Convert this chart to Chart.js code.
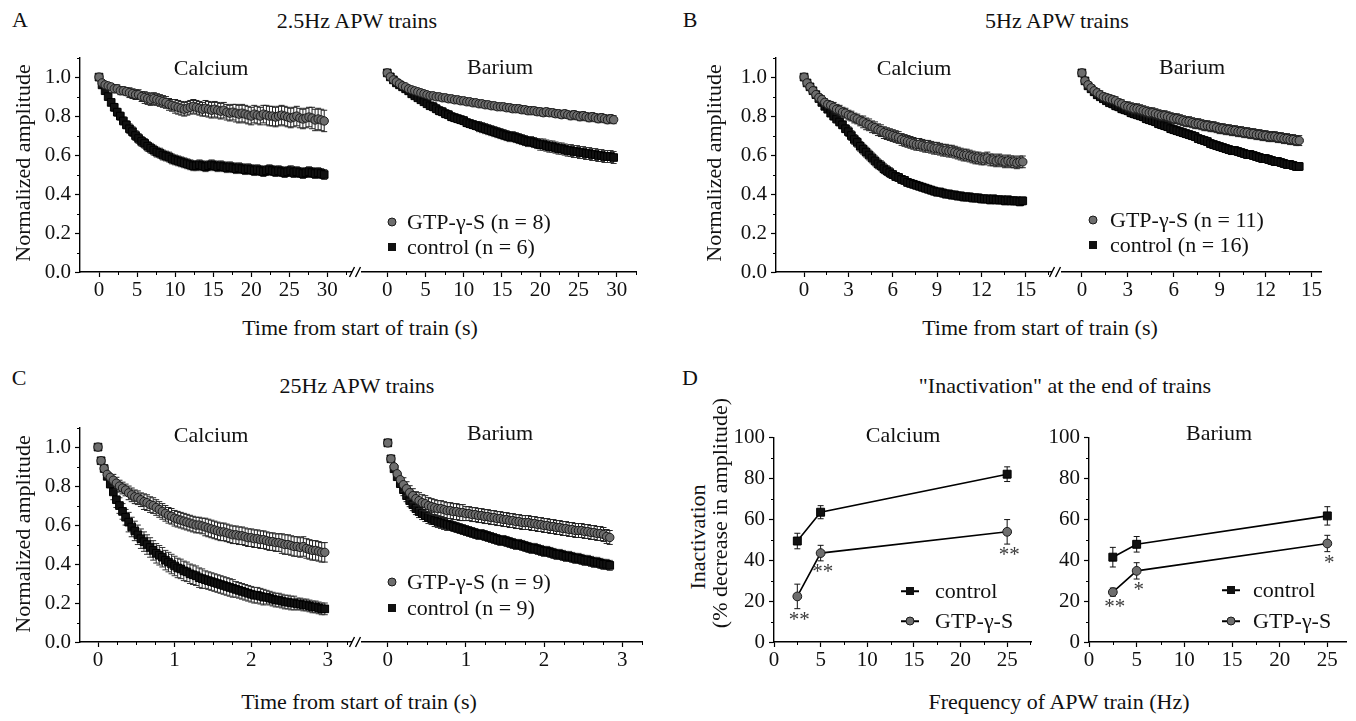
<!DOCTYPE html>
<html>
<head>
<meta charset="utf-8">
<script src="https://cdn.jsdelivr.net/npm/chart.js@4.4.1/dist/chart.umd.min.js"></script>
<style>
  body { margin: 0; background: #fff; width: 1356px; height: 721px; position: relative; overflow: hidden;
         font-family: "Liberation Serif", "Times New Roman", serif; color: #111; }
  canvas { position: absolute; }
  .t { position: absolute; white-space: nowrap; font-size: 22px; line-height: 1; transform: translate(-50%, -50%); }
  .rot { transform: translate(-50%, -50%) rotate(-90deg); }
  .lt { position: absolute; white-space: nowrap; font-size: 22px; line-height: 1; transform: translateY(-50%); }
  .mk { position: absolute; box-sizing: border-box; transform: translate(-50%, -50%); }
  .mk.c { width: 9px; height: 9px; border-radius: 50%; background: #6e6e6e; border: 1px solid #1a1a1a; }
  .mk.s { width: 8px; height: 8px; background: #111; }
  .ln { position: absolute; height: 1.5px; width: 18px; background: #000; transform: translate(-50%, -50%); }
</style>
</head>
<body>
<script>
// sampling interval of each APW train (s)
const dtA = 0.4;   // 2.5 Hz
const dtB = 0.2;   // 5 Hz
const dtC = 0.04;  // 25 Hz

// A: 2.5 Hz trains, normalized amplitude
const aCaGtp = [1.00,0.97,0.96,0.955,0.95,0.94,0.94,0.93,0.93,0.925,
  0.92,0.915,0.91,0.91,0.90,0.895,0.89,0.885,0.89,0.885,
  0.88,0.875,0.87,0.86,0.855,0.85,0.845,0.84,0.835,0.84,
  0.845,0.85,0.845,0.84,0.835,0.84,0.835,0.83,0.835,0.83,
  0.825,0.83,0.82,0.815,0.82,0.815,0.81,0.815,0.81,0.805,
  0.80,0.81,0.805,0.80,0.81,0.805,0.80,0.80,0.795,0.80,
  0.805,0.80,0.795,0.79,0.795,0.80,0.79,0.785,0.79,0.795,
  0.79,0.78,0.785,0.78,0.775];
const aCaCtl = [1.00,0.96,0.93,0.90,0.87,0.845,0.82,0.80,0.775,0.755,
  0.735,0.72,0.70,0.685,0.67,0.66,0.645,0.635,0.625,0.615,
  0.61,0.60,0.595,0.59,0.58,0.575,0.57,0.565,0.56,0.555,
  0.55,0.545,0.545,0.55,0.545,0.54,0.545,0.55,0.545,0.54,
  0.545,0.54,0.535,0.54,0.535,0.53,0.535,0.53,0.525,0.53,
  0.525,0.52,0.525,0.52,0.515,0.52,0.525,0.52,0.515,0.52,
  0.515,0.51,0.515,0.52,0.51,0.515,0.51,0.505,0.51,0.515,
  0.51,0.505,0.51,0.505,0.50];
const aBaGtp = [1.00,0.98,0.965,0.955,0.945,0.935,0.93,0.92,0.915,0.91,
  0.905,0.90,0.895,0.89,0.885,0.885,0.88,0.88,0.875,0.875,
  0.87,0.87,0.865,0.865,0.86,0.86,0.855,0.855,0.85,0.85,
  0.845,0.845,0.84,0.84,0.835,0.835,0.83,0.83,0.83,0.825,
  0.825,0.82,0.82,0.82,0.815,0.815,0.81,0.81,0.81,0.805,
  0.805,0.80,0.805,0.80,0.80,0.795,0.795,0.79,0.795,0.79,
  0.785,0.79,0.785,0.78,0.785,0.78,0.775,0.78,0.775,0.77,
  0.775,0.77,0.765,0.77,0.765];
const aBaCtl = [1.00,0.98,0.965,0.95,0.94,0.93,0.92,0.91,0.895,0.885,
  0.875,0.865,0.855,0.845,0.835,0.83,0.82,0.81,0.805,0.795,
  0.79,0.78,0.775,0.77,0.765,0.76,0.75,0.745,0.74,0.735,
  0.73,0.725,0.72,0.715,0.71,0.705,0.70,0.695,0.69,0.685,
  0.68,0.68,0.675,0.67,0.665,0.66,0.655,0.655,0.65,0.645,
  0.64,0.64,0.635,0.63,0.63,0.625,0.62,0.62,0.615,0.61,
  0.61,0.605,0.605,0.60,0.60,0.595,0.595,0.59,0.59,0.585,
  0.585,0.58,0.58,0.58,0.575];

// B: 5 Hz trains
const bCaGtp = [1.00,0.97,0.95,0.93,0.91,0.895,0.885,0.87,0.86,0.855,
  0.845,0.835,0.83,0.82,0.815,0.805,0.80,0.79,0.785,0.775,
  0.77,0.76,0.755,0.745,0.74,0.73,0.725,0.715,0.71,0.705,
  0.70,0.695,0.69,0.68,0.675,0.67,0.665,0.66,0.655,0.655,
  0.65,0.645,0.645,0.64,0.635,0.635,0.63,0.625,0.625,0.62,
  0.62,0.615,0.61,0.605,0.60,0.60,0.595,0.59,0.585,0.585,
  0.58,0.58,0.585,0.575,0.575,0.57,0.575,0.57,0.565,0.57,
  0.565,0.565,0.56,0.565,0.565];
const bCaCtl = [1.00,0.97,0.95,0.93,0.91,0.89,0.87,0.85,0.835,0.815,
  0.80,0.785,0.77,0.755,0.735,0.72,0.70,0.68,0.665,0.645,
  0.63,0.615,0.60,0.585,0.57,0.555,0.545,0.53,0.52,0.51,
  0.50,0.49,0.485,0.475,0.47,0.46,0.455,0.45,0.445,0.44,
  0.435,0.43,0.425,0.42,0.415,0.41,0.41,0.405,0.40,0.40,
  0.395,0.395,0.39,0.39,0.385,0.385,0.385,0.38,0.38,0.38,
  0.375,0.375,0.375,0.37,0.375,0.37,0.37,0.37,0.365,0.37,
  0.365,0.365,0.365,0.36,0.365];
const bBaGtp = [1.00,0.96,0.94,0.925,0.91,0.90,0.89,0.88,0.875,0.87,
  0.865,0.86,0.85,0.845,0.835,0.83,0.825,0.82,0.82,0.815,
  0.81,0.805,0.80,0.80,0.795,0.79,0.785,0.785,0.78,0.775,
  0.77,0.77,0.765,0.76,0.755,0.755,0.75,0.745,0.745,0.74,
  0.735,0.735,0.73,0.73,0.725,0.72,0.72,0.715,0.715,0.71,
  0.71,0.705,0.705,0.70,0.70,0.695,0.695,0.69,0.69,0.685,
  0.685,0.68,0.68,0.68,0.675,0.675,0.67,0.67,0.665,0.665,
  0.66,0.66];
const bBaCtl = [1.00,0.96,0.935,0.92,0.905,0.89,0.88,0.87,0.86,0.85,
  0.845,0.835,0.83,0.82,0.815,0.81,0.80,0.795,0.79,0.785,
  0.78,0.77,0.765,0.76,0.755,0.745,0.74,0.735,0.73,0.72,
  0.715,0.71,0.705,0.70,0.695,0.69,0.685,0.68,0.67,0.665,
  0.66,0.655,0.645,0.64,0.635,0.63,0.625,0.62,0.615,0.61,
  0.61,0.605,0.60,0.595,0.59,0.59,0.585,0.58,0.575,0.57,
  0.57,0.565,0.56,0.555,0.555,0.55,0.545,0.54,0.54,0.535,
  0.53,0.53];

// C: 25 Hz trains
const cCaGtp = [1.00,0.93,0.89,0.86,0.845,0.83,0.815,0.80,0.79,0.78,
  0.765,0.755,0.745,0.74,0.73,0.72,0.715,0.705,0.70,0.69,
  0.68,0.67,0.66,0.65,0.645,0.635,0.63,0.625,0.62,0.615,
  0.61,0.605,0.60,0.60,0.595,0.59,0.585,0.58,0.575,0.57,
  0.565,0.565,0.56,0.555,0.55,0.55,0.545,0.545,0.54,0.535,
  0.535,0.53,0.53,0.525,0.525,0.52,0.515,0.515,0.51,0.51,
  0.505,0.50,0.50,0.495,0.49,0.49,0.485,0.49,0.48,0.475,
  0.47,0.47,0.465,0.46,0.46];
const cCaCtl = [1.00,0.93,0.89,0.85,0.81,0.77,0.73,0.70,0.67,0.64,
  0.615,0.59,0.57,0.55,0.53,0.515,0.50,0.485,0.47,0.455,
  0.445,0.435,0.42,0.41,0.40,0.39,0.38,0.375,0.365,0.36,
  0.35,0.345,0.34,0.33,0.325,0.32,0.315,0.31,0.305,0.30,
  0.295,0.29,0.285,0.28,0.275,0.27,0.265,0.26,0.255,0.25,
  0.245,0.24,0.24,0.235,0.23,0.23,0.225,0.22,0.215,0.215,
  0.21,0.205,0.205,0.20,0.20,0.195,0.195,0.19,0.19,0.185,
  0.18,0.18,0.175,0.17,0.17];
const cBaGtp = [1.00,0.92,0.88,0.845,0.815,0.79,0.77,0.75,0.735,0.72,
  0.71,0.70,0.695,0.685,0.68,0.675,0.67,0.67,0.665,0.66,
  0.66,0.655,0.655,0.65,0.65,0.645,0.645,0.64,0.64,0.635,
  0.635,0.63,0.63,0.625,0.625,0.62,0.62,0.615,0.615,0.61,
  0.61,0.605,0.605,0.60,0.60,0.60,0.595,0.595,0.59,0.59,
  0.585,0.585,0.58,0.58,0.575,0.575,0.57,0.57,0.565,0.565,
  0.56,0.56,0.56,0.555,0.555,0.55,0.55,0.545,0.545,0.54,
  0.53,0.525];
const cBaCtl = [1.00,0.92,0.87,0.83,0.795,0.765,0.735,0.71,0.69,0.67,
  0.655,0.645,0.635,0.625,0.62,0.61,0.605,0.60,0.595,0.59,
  0.585,0.58,0.575,0.57,0.565,0.56,0.555,0.55,0.545,0.54,
  0.54,0.535,0.53,0.525,0.52,0.515,0.51,0.51,0.505,0.50,
  0.495,0.49,0.49,0.485,0.48,0.475,0.47,0.47,0.465,0.46,
  0.455,0.455,0.45,0.445,0.44,0.44,0.435,0.43,0.43,0.425,
  0.42,0.42,0.415,0.41,0.41,0.405,0.40,0.40,0.395,0.39,
  0.39,0.385];

// SEM, one value per block of 5 pulses
const aCaGtpErr = [0.01,0.02,0.025,0.03,0.03,0.035,0.035,0.04,0.04,0.045,0.045,0.05,0.05,0.05,0.055];
const aCaCtlErr = [0.01,0.02,0.025,0.025,0.025,0.025,0.025,0.025,0.025,0.025,0.025,0.025,0.025,0.025,0.025];
const aBaGtpErr = [0.01,0.01,0.012,0.015,0.015,0.015,0.015,0.015,0.018,0.018,0.018,0.018,0.02,0.02,0.02];
const aBaCtlErr = [0.01,0.01,0.015,0.02,0.02,0.02,0.025,0.025,0.025,0.025,0.028,0.028,0.03,0.03,0.03];
const bCaGtpErr = [0.01,0.02,0.025,0.025,0.03,0.03,0.03,0.03,0.03,0.03,0.03,0.03,0.03,0.03,0.03];
const bCaCtlErr = [0.01,0.015,0.02,0.025,0.025,0.025,0.02,0.02,0.02,0.02,0.02,0.02,0.02,0.02,0.02];
const bBaGtpErr = [0.01,0.02,0.02,0.025,0.025,0.025,0.025,0.025,0.025,0.025,0.025,0.025,0.025,0.025,0.025];
const bBaCtlErr = [0.01,0.015,0.02,0.02,0.02,0.02,0.02,0.02,0.02,0.02,0.02,0.02,0.02,0.02,0.02];
const cCaGtpErr = [0.01,0.03,0.035,0.04,0.04,0.04,0.04,0.045,0.045,0.045,0.045,0.045,0.05,0.05,0.05];
const cCaCtlErr = [0.01,0.04,0.05,0.05,0.05,0.05,0.05,0.045,0.045,0.04,0.04,0.035,0.035,0.03,0.03];
const cBaGtpErr = [0.01,0.035,0.04,0.04,0.04,0.035,0.035,0.035,0.035,0.035,0.035,0.035,0.035,0.035,0.035];
const cBaCtlErr = [0.01,0.03,0.03,0.03,0.025,0.025,0.025,0.025,0.025,0.025,0.025,0.025,0.025,0.025,0.025];

// D: inactivation at the end of trains (%)
const freqHz = [2.5, 5, 25];
const dCaCtl = [49.4, 63.5, 82.1];
const dCaCtlErr = [3.8, 3.2, 3.6];
const dCaGtp = [22.3, 43.5, 53.9];
const dCaGtpErr = [6.0, 3.8, 6.0];
const dBaCtl = [41.5, 47.8, 61.7];
const dBaCtlErr = [4.8, 3.8, 4.5];
const dBaGtp = [24.4, 34.8, 48.2];
const dBaGtpErr = [2.0, 4.0, 4.0];
const dCaStars = ['**', '**', '**'];
const dBaStars = ['**', '*', '*'];

// tick labels
const ampTicks = v => v.toFixed(1);
const pctTicks = v => String(v);

Chart.defaults.font.family = '"Liberation Serif", "Times New Roman", serif';
Chart.defaults.font.size = 21;
Chart.defaults.color = '#111';
Chart.defaults.animation = false;

// error bars drawn behind each dataset's markers
const errorBars = {
  id: 'errorBars',
  beforeDatasetDraw(chart, args) {
    const ds = chart.data.datasets[args.index];
    if (!ds.err) return;
    const ctx = chart.ctx, sx = chart.scales.x, sy = chart.scales.y;
    const cap = ds.cap || 2.5;
    ctx.save();
    ctx.strokeStyle = ds.errColor || '#000';
    ctx.lineWidth = 1;
    ctx.beginPath();
    ds.data.forEach((p, i) => {
      const e = ds.err[Math.floor(i / (ds.errStep || 1))];
      const x = sx.getPixelForValue(p.x);
      const y1 = sy.getPixelForValue(p.y + e), y2 = sy.getPixelForValue(p.y - e);
      ctx.moveTo(x, y1); ctx.lineTo(x, y2);
      ctx.moveTo(x - cap, y1); ctx.lineTo(x + cap, y1);
      ctx.moveTo(x - cap, y2); ctx.lineTo(x + cap, y2);
    });
    ctx.stroke();
    ctx.restore();
  },
  afterDatasetsDraw(chart) {
    const ctx = chart.ctx, sx = chart.scales.x, sy = chart.scales.y;
    chart.data.datasets.forEach(ds => {
      if (!ds.stars) return;
      ctx.save();
      ctx.fillStyle = '#3a3a3a';
      ctx.font = '21px "Liberation Serif", serif';
      ctx.textAlign = 'center';
      ctx.textBaseline = 'top';
      ds.data.forEach((p, i) => {
        ctx.fillText(ds.stars[i], sx.getPixelForValue(p.x) + 2, sy.getPixelForValue(p.y - ds.err[i]) + 1);
      });
      ctx.restore();
    });
  }
};

// small unlabeled ticks between the major ones
const minorTicks = {
  id: 'minorTicks',
  afterDraw(chart, args, opts) {
    const ctx = chart.ctx;
    ctx.save();
    ctx.strokeStyle = '#000';
    ctx.lineWidth = 1;
    ctx.beginPath();
    const sx = chart.scales.x, sy = chart.scales.y;
    const isMajor = (v, step) => Math.abs(v / step - Math.round(v / step)) < 1e-6;
    if (opts.x) {
      const major = sx.options.ticks.stepSize;
      for (let v = 0; v <= sx.max + 1e-9; v += opts.x) {
        if (isMajor(v, major)) continue;
        const px = Math.round(sx.getPixelForValue(v)) + 0.5;
        ctx.moveTo(px, sx.top); ctx.lineTo(px, sx.top + 3);
      }
    }
    if (opts.y && sy.options.display) {
      const major = sy.options.ticks.stepSize;
      for (let v = 0; v <= sy.max + 1e-9; v += opts.y) {
        if (isMajor(v, major)) continue;
        const py = Math.round(sy.getPixelForValue(v)) + 0.5;
        ctx.moveTo(sy.right, py); ctx.lineTo(sy.right - 3, py);
      }
    }
    ctx.stroke();
    ctx.restore();
  }
};

// "//" mark where the time axis is broken
const axisBreak = {
  id: 'axisBreak',
  afterDraw(chart, args, opts) {
    if (!opts.on) return;
    const ctx = chart.ctx, a = chart.chartArea;
    ctx.save();
    ctx.strokeStyle = '#000';
    ctx.lineWidth = 1.4;
    [-10, -4].forEach(dx => {
      ctx.beginPath();
      ctx.moveTo(a.left + dx - 2.5, a.bottom + 5);
      ctx.lineTo(a.left + dx + 2.5, a.bottom - 5);
      ctx.stroke();
    });
    ctx.restore();
  }
};

Chart.register(errorBars, minorTicks, axisBreak);

function train(vals, dt) {
  return vals.map((v, i) => ({ x: Math.round(i * dt * 1000) / 1000, y: v }));
}
function pairs(xs, ys) {
  return xs.map((x, i) => ({ x: x, y: ys[i] }));
}

function gtpSet(data, err, step) {
  return { data, err, errStep: step, errColor: '#222', cap: 3, pointStyle: 'circle', pointRadius: 4.2,
    pointBackgroundColor: '#6e6e6e', pointBorderColor: '#1a1a1a', pointBorderWidth: 1 };
}
function ctlSet(data, err, step) {
  return { data, err, errStep: step, errColor: '#333', cap: 3, pointStyle: 'rect', pointRadius: 5.4,
    pointBackgroundColor: '#111', pointBorderColor: '#000', pointBorderWidth: 1 };
}

// box = chart area in page pixels
function makePlot(box, xs, ys, datasets, extra) {
  const showY = !!ys.show;
  const Wy = showY ? 60 : 0, padL = showY ? 0 : 16, padT = 12, padR = 6, Hx = 42;
  const c = document.createElement('canvas');
  c.width = box.r - box.l + Wy + padL + padR;
  c.height = box.b - box.t + padT + Hx;
  c.style.left = (box.l - Wy - padL) + 'px';
  c.style.top = (box.t - padT) + 'px';
  document.body.appendChild(c);
  const grid = { drawOnChartArea: false, tickLength: 5, tickColor: '#000', tickWidth: 1.2 };
  const border = { color: '#000', width: 1.4 };
  return new Chart(c, {
    type: 'scatter',
    data: { datasets },
    options: {
      responsive: false,
      layout: { padding: { left: padL, top: padT, right: padR, bottom: 0 } },
      plugins: {
        legend: { display: false },
        tooltip: { enabled: false },
        minorTicks: { x: xs.minor, y: ys.minor },
        axisBreak: { on: !!extra.brk }
      },
      scales: {
        x: {
          type: 'linear', min: xs.min, max: xs.max,
          afterFit: s => { s.height = Hx; },
          ticks: { stepSize: xs.step, includeBounds: false, autoSkip: false, maxRotation: 0, padding: 1 },
          grid, border
        },
        y: {
          type: 'linear', display: showY, min: ys.min, max: ys.max,
          afterFit: s => { s.width = Wy; },
          ticks: { stepSize: ys.step, includeBounds: false, autoSkip: false, padding: 4, callback: ys.fmt },
          grid, border
        }
      }
    }
  });
}

const ampAxis = { min: 0, max: 1.1, step: 0.2, minor: 0.1, fmt: ampTicks };

// A
makePlot({ l: 80, r: 352, t: 53, b: 272 }, { min: -2.5, max: 33.2, step: 5, minor: 2.5 },
  Object.assign({ show: true }, ampAxis),
  [gtpSet(train(aCaGtp, dtA), aCaGtpErr, 5), ctlSet(train(aCaCtl, dtA), aCaCtlErr, 5)], {});
makePlot({ l: 362, r: 637, t: 53, b: 272 }, { min: -3.3, max: 32.6, step: 5, minor: 2.5 },
  Object.assign({ show: false }, ampAxis),
  [gtpSet(train(aBaGtp, dtA), aBaGtpErr, 5), ctlSet(train(aBaCtl, dtA), aBaCtlErr, 5)], { brk: true });

// B
makePlot({ l: 776, r: 1052, t: 53, b: 272 }, { min: -1.9, max: 16.75, step: 3, minor: 1.5 },
  Object.assign({ show: true }, ampAxis),
  [gtpSet(train(bCaGtp, dtB), bCaGtpErr, 5), ctlSet(train(bCaCtl, dtB), bCaCtlErr, 5)], {});
makePlot({ l: 1062, r: 1322, t: 53, b: 272 }, { min: -1.3, max: 15.66, step: 3, minor: 1.5 },
  Object.assign({ show: false }, ampAxis),
  [gtpSet(train(bBaGtp, dtB), bBaGtpErr, 5), ctlSet(train(bBaCtl, dtB), bBaCtlErr, 5)], { brk: true });

// C
makePlot({ l: 80, r: 352, t: 423, b: 642 }, { min: -0.235, max: 3.31, step: 1, minor: 0.25 },
  Object.assign({ show: true }, ampAxis),
  [gtpSet(train(cCaGtp, dtC), cCaGtpErr, 5), ctlSet(train(cCaCtl, dtC), cCaCtlErr, 5)], {});
makePlot({ l: 362, r: 643, t: 423, b: 642 }, { min: -0.33, max: 3.26, step: 1, minor: 0.25 },
  Object.assign({ show: false }, ampAxis),
  [gtpSet(train(cBaGtp, dtC), cBaGtpErr, 5), ctlSet(train(cBaCtl, dtC), cBaCtlErr, 5)], { brk: true });

// D
function dSets(ctl, ctlErr, gtp, gtpErr, stars) {
  const c = ctlSet(pairs(freqHz, ctl), ctlErr, 1);
  const g = gtpSet(pairs(freqHz, gtp), gtpErr, 1);
  [c, g].forEach(s => { s.showLine = true; s.borderColor = '#000'; s.borderWidth = 1.6; s.cap = 3; s.errColor = '#111'; });
  c.pointRadius = 5.6; g.pointRadius = 4.4;
  g.stars = stars;
  return [c, g];
}
const pctAxis = { show: true, min: 0, max: 100, step: 20, minor: 10, fmt: pctTicks };
makePlot({ l: 774, r: 1032, t: 433, b: 642 }, { min: 0, max: 27.6, step: 5, minor: 2.5 }, pctAxis,
  dSets(dCaCtl, dCaCtlErr, dCaGtp, dCaGtpErr, dCaStars), {});
makePlot({ l: 1089, r: 1347, t: 433, b: 642 }, { min: 0, max: 27, step: 5, minor: 2.5 }, pctAxis,
  dSets(dBaCtl, dBaCtlErr, dBaGtp, dBaGtpErr, dBaStars), {});

// text labels
function label(text, x, y, rotated) {
  const d = document.createElement('div');
  d.className = rotated ? 't rot' : 't';
  d.textContent = text;
  d.style.left = x + 'px';
  d.style.top = y + 'px';
  document.body.appendChild(d);
}
[
  ['A', 20, 20], ['B', 690, 20], ['C', 19, 378], ['D', 690, 378],
  ['2.5Hz APW trains', 357, 21], ['5Hz APW trains', 1057, 21],
  ['25Hz APW trains', 357, 386], ['"Inactivation" at the end of trains', 1065, 386],
  ['Calcium', 211, 68], ['Barium', 500, 67], ['Calcium', 914, 68], ['Barium', 1192, 67],
  ['Calcium', 211, 435], ['Barium', 500, 433], ['Calcium', 903, 435], ['Barium', 1219, 433],
  ['Time from start of train (s)', 360, 328], ['Time from start of train (s)', 1040, 328],
  ['Time from start of train (s)', 359, 702], ['Frequency of APW train (Hz)', 1059, 702]
].forEach(a => label(a[0], a[1], a[2], false));
[
  ['Normalized amplitude', 23, 163], ['Normalized amplitude', 714, 163], ['Normalized amplitude', 23, 534],
  ['Inactivation', 698, 537], ['(% decrease in amplitude)', 720, 513]
].forEach(a => label(a[0], a[1], a[2], true));

// legends
function legendRow(x, y, kind, text, withLine, textX) {
  if (withLine) {
    const l = document.createElement('div');
    l.className = 'ln';
    l.style.left = x + 'px'; l.style.top = y + 'px';
    document.body.appendChild(l);
  }
  const m = document.createElement('div');
  m.className = 'mk ' + kind;
  m.style.left = x + 'px'; m.style.top = y + 'px';
  document.body.appendChild(m);
  const t = document.createElement('div');
  t.className = 'lt';
  t.textContent = text;
  t.style.left = textX + 'px'; t.style.top = y + 'px';
  document.body.appendChild(t);
}
legendRow(392, 222, 'c', 'GTP-γ-S (n = 8)', false, 407);
legendRow(392, 247, 's', 'control (n = 6)', false, 407);
legendRow(1093, 220, 'c', 'GTP-γ-S (n = 11)', false, 1110);
legendRow(1093, 245, 's', 'control (n = 16)', false, 1110);
legendRow(392, 582, 'c', 'GTP-γ-S (n = 9)', false, 407);
legendRow(392, 608, 's', 'control (n = 9)', false, 407);
legendRow(910, 591, 's', 'control', true, 935);
legendRow(910, 621, 'c', 'GTP-γ-S', true, 935);
legendRow(1231, 590, 's', 'control', true, 1253);
legendRow(1231, 621, 'c', 'GTP-γ-S', true, 1253);
</script>
</body>
</html>
